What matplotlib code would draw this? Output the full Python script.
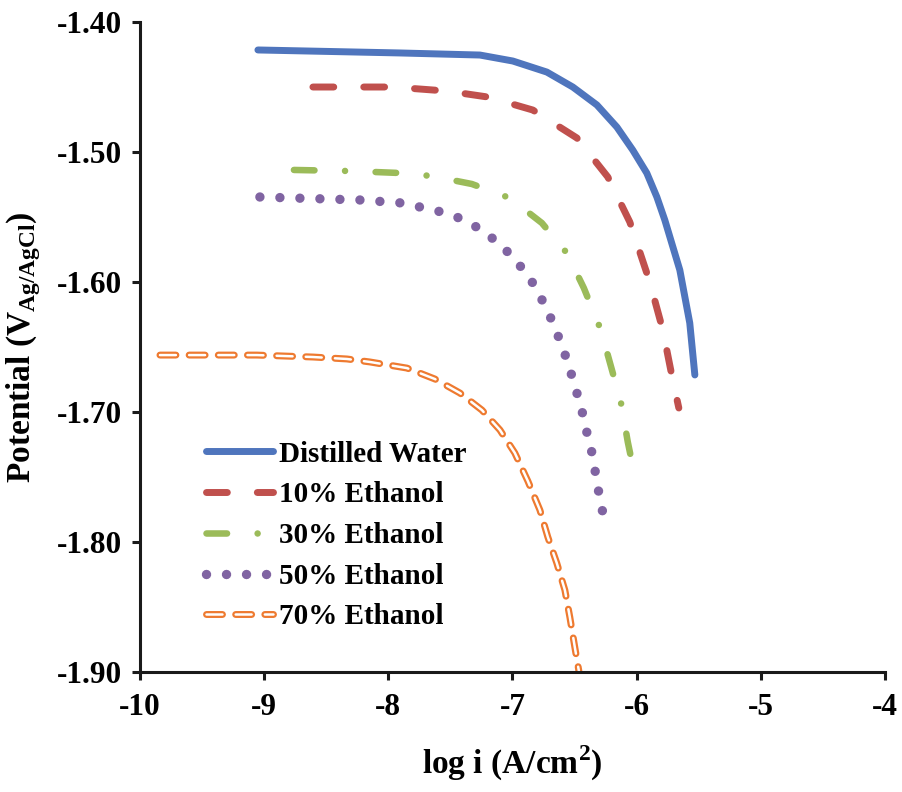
import matplotlib
matplotlib.use("Agg")
import matplotlib.pyplot as plt
import matplotlib.patheffects as pe

plt.rcParams["font.family"] = ["Liberation Serif", "DejaVu Serif"]
plt.rcParams["font.weight"] = "bold"
plt.rcParams["axes.unicode_minus"] = False
plt.rcParams["lines.scale_dashes"] = False

# Polarization curves: log current density vs potential
water_x = [-9.050, -7.907, -7.262, -6.997, -6.723, -6.514, -6.320, -6.159, -6.031, -5.918, -5.837, -5.773,
           -5.652, -5.572, -5.531]
water_y = [-1.4215, -1.4238, -1.4254, -1.4300, -1.4385, -1.4500, -1.4638, -1.4808, -1.4985, -1.5162, -1.5346, -1.5523,
           -1.5908, -1.6315, -1.6715]

eth10_x = [-8.607, -7.963, -7.528, -7.198, -6.836, -6.481, -6.232, -6.055, -5.894, -5.789, -5.709, -5.660]
eth10_y = [-1.4500, -1.4500, -1.4531, -1.4577, -1.4677, -1.4892, -1.5192, -1.5538, -1.6000, -1.6369, -1.6754, -1.6969]

eth30_x = [-8.760, -8.317, -7.890, -7.649, -7.327, -7.021, -6.763, -6.562, -6.425, -6.304, -6.232, -6.127, -6.071, -6.006]
eth30_y = [-1.5138, -1.5146, -1.5162, -1.5185, -1.5246, -1.5354, -1.5546, -1.5777, -1.6046, -1.6331, -1.6562, -1.6923,
           -1.7231, -1.7531]

eth50_x = [-9.034, -8.229, -7.890, -7.601, -7.448, -7.303, -7.174, -7.061, -6.957, -6.860, -6.787, -6.715, -6.659,
           -6.602, -6.554, -6.506, -6.465, -6.425, -6.393, -6.353, -6.329, -6.304, -6.272]
eth50_y = [-1.5346, -1.5369, -1.5392, -1.5454, -1.5500, -1.5569, -1.5654, -1.5746, -1.5854, -1.5969, -1.6092, -1.6223,
           -1.6354, -1.6485, -1.6623, -1.6769, -1.6908, -1.7046, -1.7192, -1.7338, -1.7485, -1.7623, -1.7777]

eth70_x = [-9.839, -9.058, -8.607, -8.333, -8.148, -7.850, -7.625, -7.423, -7.246, -7.101, -6.981, -6.876,
           -6.779, -6.715, -6.643, -6.578, -6.538, -6.498, -6.465]
eth70_y = [-1.6562, -1.6562, -1.6577, -1.6592, -1.6615, -1.6662, -1.6746, -1.6854, -1.6985, -1.7138, -1.7315, -1.7531,
           -1.7754, -1.7962, -1.8162, -1.8369, -1.8577, -1.8808, -1.8992]

labels = ["Distilled Water", "10% Ethanol", "30% Ethanol", "50% Ethanol", "70% Ethanol"]
x_ticks = [-10, -9, -8, -7, -6, -5, -4]
y_ticks = [-1.40, -1.50, -1.60, -1.70, -1.80, -1.90]

fig = plt.figure(figsize=(9.03, 7.92), dpi=100)
ax = fig.add_axes([0.155, 0.1515, 0.825, 0.8207])

ax.plot(water_x, water_y, color="#4F75BD", lw=5, solid_capstyle="round", solid_joinstyle="round",
        label=labels[0])

l10, = ax.plot(eth10_x, eth10_y, color="#C0504D", lw=5, dash_capstyle="round", dash_joinstyle="round",
               label=labels[1])
l10.set_dashes((15, 21.6))

l30, = ax.plot(eth30_x, eth30_y, color="#9BBB59", lw=4.7, dash_capstyle="round", dash_joinstyle="round",
               label=labels[2])
l30.set_dashes((14.8, 22, 0.01, 22))

l50, = ax.plot(eth50_x, eth50_y, color="#8064A2", lw=6.8, dash_capstyle="round", label=labels[3])
l50.set_dashes((0.01, 14.4))

l70, = ax.plot(eth70_x, eth70_y, color="white", lw=1.8, dash_capstyle="round", dash_joinstyle="round",
               label=labels[4],
               path_effects=[pe.Stroke(linewidth=5.0, foreground="#EE7A30", capstyle="round"), pe.Normal()])
l70.set_dashes((11.5, 9.5))

ax.set_xlim(-10, -4)
ax.set_ylim(-1.90, -1.40)
ax.set_xticks(x_ticks)
ax.set_xticklabels([f"{v:d}" for v in x_ticks])
ax.set_yticks(y_ticks)
ax.set_yticklabels([f"{v:.2f}" for v in y_ticks])

for s in ["top", "right"]:
    ax.spines[s].set_visible(False)
for s in ["left", "bottom"]:
    ax.spines[s].set_linewidth(2.2)
    ax.spines[s].set_color("#1a1a1a")
ax.tick_params(axis="both", direction="out", length=6, width=2.2, labelsize=22.5, color="#1a1a1a")
ax.tick_params(axis="x", pad=9)
ax.tick_params(axis="y", pad=7)

ax.set_xlabel("log i (A/cm$^{\\mathregular{2}}$)", fontsize=24, fontweight="bold", labelpad=16)
ax.set_ylabel("Potential (V$_{\\mathregular{Ag/AgCl}}$)", fontsize=24, fontweight="bold", labelpad=10)

leg = ax.legend(loc="upper left", bbox_to_anchor=(0.089, 0.356), frameon=False, fontsize=21,
                handlelength=2.3, handletextpad=0.2, labelspacing=0.47, borderpad=0, borderaxespad=0)
for t in leg.get_texts():
    t.set_fontweight("bold")

fig.savefig("out.png", dpi=100, facecolor="white")
